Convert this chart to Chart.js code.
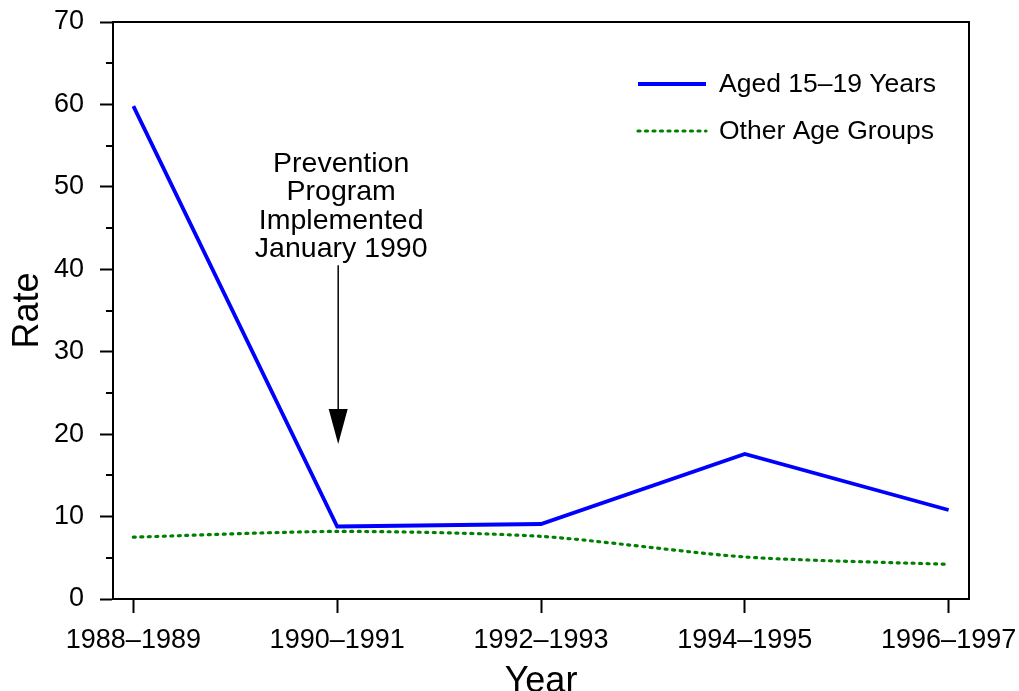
<!DOCTYPE html>
<html>
<head>
<meta charset="utf-8">
<script src="https://cdn.jsdelivr.net/npm/chart.js@4/dist/chart.umd.min.js"></script>
<style>
html,body{margin:0;padding:0;background:#fff;}
#wrap{width:1019px;height:691px;}
</style>
</head>
<body>
<div id="wrap"><canvas id="c" width="1019" height="691"></canvas></div>
<script>
const categories = ['1988\u20131989','1990\u20131991','1992\u20131993','1994\u20131995','1996\u20131997'];
const aged1519 = [59.8, 8.8, 9.1, 17.6, 10.8];
const otherAges = [7.5, 8.2, 7.6, 5.1, 4.2];
const seriesNames = ['Aged 15\u201319 Years', 'Other Age Groups'];
const yMajorTicks = [0, 10, 20, 30, 40, 50, 60, 70];
const yMinorTicks = [5, 15, 25, 35, 45, 55, 65];
const annotationLines = ['Prevention', 'Program', 'Implemented', 'January 1990'];
const annotationIndex = 1;
const arrowFrom = 40.5;
const arrowTo = 18.8;

const FONT = '"Liberation Sans", Arial, sans-serif';

const framePlugin = {
  id: 'frame',
  afterDraw(chart) {
    const ctx = chart.ctx, a = chart.chartArea;
    const ys = chart.scales.y, xs = chart.scales.x;
    ctx.save();
    ctx.strokeStyle = '#000';
    ctx.lineWidth = 2;
    ctx.strokeRect(a.left, a.top, a.right - a.left, a.bottom - a.top);
    yMinorTicks.forEach(v => {
      const py = Math.round(ys.getPixelForValue(v));
      ctx.beginPath();
      ctx.moveTo(a.left - 7, py);
      ctx.lineTo(a.left, py);
      ctx.stroke();
    });
    const ax = xs.getPixelForValue(annotationIndex);
    ctx.fillStyle = '#000';
    ctx.font = '28.5px ' + FONT;
    ctx.textAlign = 'center';
    ctx.textBaseline = 'alphabetic';
    const baseY = ys.getPixelForValue(arrowFrom) - 93.5;
    annotationLines.forEach((t, i) => {
      ctx.fillText(t, ax + 4, baseY + i * 28.5);
    });
    const y1 = ys.getPixelForValue(arrowFrom);
    const y2 = ys.getPixelForValue(arrowTo);
    ctx.lineWidth = 1.5;
    ctx.beginPath();
    ctx.moveTo(ax + 1, y1);
    ctx.lineTo(ax + 1, y2 - 30);
    ctx.stroke();
    ctx.beginPath();
    ctx.moveTo(ax - 8.5, y2 - 35);
    ctx.lineTo(ax + 10.5, y2 - 35);
    ctx.lineTo(ax + 1, y2);
    ctx.closePath();
    ctx.fill();
    const ds = chart.data.datasets;
    const lx = a.right - 333, tx = a.right - 250;
    const ly = [a.top + 62, a.top + 109];
    ds.forEach((d, i) => {
      ctx.save();
      ctx.strokeStyle = d.borderColor;
      ctx.lineWidth = d.borderWidth;
      ctx.lineCap = d.borderCapStyle || 'butt';
      ctx.setLineDash(d.borderDash || []);
      ctx.beginPath();
      ctx.moveTo(lx + 2, ly[i]);
      ctx.lineTo(lx + 70, ly[i]);
      ctx.stroke();
      ctx.restore();
      ctx.fillStyle = '#000';
      ctx.font = '26.5px ' + FONT;
      ctx.textAlign = 'left';
      ctx.textBaseline = 'middle';
      ctx.fillText(d.label, tx, ly[i] + 1);
    });
    ctx.restore();
  }
};

new Chart(document.getElementById('c'), {
  type: 'line',
  data: {
    datasets: [
      {
        label: seriesNames[0],
        data: aged1519.map((v, i) => ({x: i, y: v})),
        borderColor: '#0000ff',
        borderWidth: 3.8,
        pointRadius: 0,
        tension: 0,
        fill: false
      },
      {
        label: seriesNames[1],
        data: otherAges.map((v, i) => ({x: i, y: v})),
        borderColor: '#008000',
        borderWidth: 3.2,
        borderDash: [2, 5.5],
        borderCapStyle: 'round',
        pointRadius: 0,
        tension: 0.25,
        fill: false
      }
    ]
  },
  options: {
    responsive: false,
    animation: false,
    devicePixelRatio: 1,
    layout: { padding: { top: 22, right: 50, left: 0, bottom: 0 } },
    plugins: { legend: { display: false }, tooltip: { enabled: false } },
    scales: {
      x: {
        type: 'linear',
        min: -0.1,
        max: 4.1,
        afterBuildTicks: s => { s.ticks = categories.map((c, i) => ({value: i})); },
        afterFit: s => { s.height = 92; s.paddingLeft = 0; s.paddingRight = 0; },
        grid: { drawOnChartArea: false, drawTicks: true, tickLength: 14, tickColor: '#000', tickWidth: 2 },
        border: { display: true, color: '#000', width: 2 },
        ticks: {
          autoSkip: false,
          maxRotation: 0,
          padding: 11,
          color: '#000',
          font: { family: FONT, size: 27 },
          callback: v => categories[v]
        },
        title: {
          display: true,
          text: 'Year',
          color: '#000',
          font: { family: FONT, size: 36 },
          padding: { top: 0, bottom: -13 }
        }
      },
      y: {
        min: 0,
        max: 70,
        afterBuildTicks: s => { s.ticks = yMajorTicks.map(v => ({value: v})); },
        afterFit: s => { s.width = 113; s.paddingTop = 0; s.paddingBottom = 0; },
        grid: { drawOnChartArea: false, drawTicks: true, tickLength: 13, tickColor: '#000', tickWidth: 2 },
        border: { display: true, color: '#000', width: 2 },
        ticks: {
          padding: 16,
          color: '#000',
          font: { family: FONT, size: 27 },
          callback: v => String(v)
        },
        title: {
          display: true,
          text: 'Rate',
          color: '#000',
          font: { family: FONT, size: 36 },
          padding: { top: 6, bottom: 0 }
        }
      }
    }
  },
  plugins: [framePlugin]
});
</script>
</body>
</html>
